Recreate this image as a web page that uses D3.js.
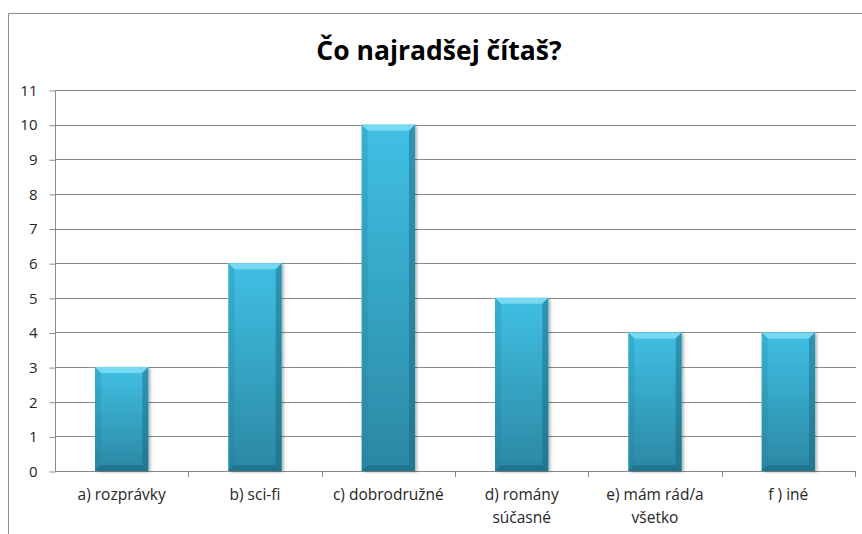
<!DOCTYPE html>
<html>
<head>
<meta charset="utf-8">
<script src="https://cdn.jsdelivr.net/npm/d3@7"></script>
<style>
  body { margin: 0; background: #fff; }
  text { font-family: "Open Sans", "Noto Sans", sans-serif; fill: #262626; }
</style>
</head>
<body>
<div id="chart"></div>
<script>
// chart data
const categories = ["a) rozprávky", "b) sci-fi", "c) dobrodružné", "d) romány súčasné", "e) mám rád/a všetko", "f ) iné"];
const labelLines = [["a) rozprávky"], ["b) sci-fi"], ["c) dobrodružné"], ["d) romány", "súčasné"], ["e) mám rád/a", "všetko"], ["f ) iné"]];
const counts = [3, 6, 10, 5, 4, 4];
const yTicks = [0, 1, 2, 3, 4, 5, 6, 7, 8, 9, 10, 11];
const title = "Čo najradšej čítaš?";

const W = 862, H = 534;
const plot = {left: 55, right: 855, top: 90, bottom: 471};

const svg = d3.select("#chart").append("svg")
    .attr("width", W)
    .attr("height", H);

// outer frame (only left and top visible)
svg.append("path")
    .attr("d", "M8.5,540 V13.5 H870")
    .attr("fill", "none")
    .attr("stroke", "#8c8c8c")
    .attr("stroke-width", 1);

svg.append("text")
    .attr("x", 439)
    .attr("y", 60)
    .attr("text-anchor", "middle")
    .style("font-size", "26.5px")
    .style("font-weight", "bold")
    .style("fill", "#000")
    .text(title);

const x = d3.scaleBand()
    .domain(categories)
    .range([plot.left, plot.right])
    .padding(0);

const y = d3.scaleLinear()
    .domain([0, 11])
    .range([plot.bottom, plot.top]);

// gridlines
svg.append("g")
    .selectAll("line")
    .data(yTicks.slice(1))
    .join("line")
    .attr("x1", plot.left)
    .attr("x2", plot.right + 1)
    .attr("y1", d => Math.round(y(d)) + 0.5)
    .attr("y2", d => Math.round(y(d)) + 0.5)
    .attr("stroke", "#8a8a8a");

// Y axis
const yAxis = svg.append("g")
    .attr("transform", "translate(" + (plot.left + 0.5) + ",0.5)")
    .call(d3.axisLeft(y).tickValues(yTicks).tickSize(6).tickPadding(12));
yAxis.attr("font-size", null).attr("font-family", null);
yAxis.select(".domain").attr("stroke", "#8a8a8a").attr("d", "M0," + plot.top + "V" + plot.bottom);
yAxis.selectAll(".tick line").attr("stroke", "#8a8a8a");
yAxis.selectAll("text")
    .style("font-size", "15px")
    .attr("fill", "#262626");

// X axis
const xAxis = svg.append("g")
    .attr("transform", "translate(0," + (plot.bottom + 0.5) + ")")
    .call(d3.axisBottom(x).tickSize(0).tickFormat(""));
xAxis.select(".domain").attr("stroke", "#8a8a8a").attr("d", "M" + plot.left + ",0H" + (plot.right + 1));

// category boundary ticks
svg.append("g")
    .selectAll("line")
    .data(categories)
    .join("line")
    .attr("x1", d => Math.round(x(d) + x.bandwidth()) + 0.5)
    .attr("x2", d => Math.round(x(d) + x.bandwidth()) + 0.5)
    .attr("y1", plot.bottom)
    .attr("y2", plot.bottom + 6)
    .attr("stroke", "#8a8a8a");

// category labels
const labels = svg.append("g")
    .selectAll("text")
    .data(categories)
    .join("text")
    .attr("text-anchor", "middle")
    .style("font-size", "15.5px");
labels.each(function(d, i) {
    const t = d3.select(this);
    labelLines[i].forEach((line, k) => {
        t.append("tspan")
            .attr("x", x(d) + x.bandwidth() / 2)
            .attr("y", 500 + k * 23)
            .text(line);
    });
});

// gradients for bevelled bars
const defs = svg.append("defs");
const g1 = defs.append("linearGradient").attr("id", "barFill")
    .attr("x1", 0).attr("y1", 0).attr("x2", 0).attr("y2", 1);
g1.append("stop").attr("offset", "0%").attr("stop-color", "#40c0e4");
g1.append("stop").attr("offset", "100%").attr("stop-color", "#2b88a3");

const filt = defs.append("filter").attr("id", "shadow")
    .attr("x", "-20%").attr("y", "-10%").attr("width", "150%").attr("height", "130%");
filt.append("feDropShadow").attr("dx", 2).attr("dy", 1).attr("stdDeviation", 1.5)
    .attr("flood-color", "#000").attr("flood-opacity", 0.3);

const barW = x.bandwidth() * 0.4;
const bev = 6;

const bars = svg.append("g")
    .selectAll("g")
    .data(categories)
    .join("g");

bars.each(function(d, i) {
    const g = d3.select(this);
    const x0 = x(d) + (x.bandwidth() - barW) / 2;
    const x1 = x0 + barW;
    const y0 = y(counts[i]);
    const y1 = y(0);
    g.append("rect")
        .attr("x", x0)
        .attr("y", y0)
        .attr("width", barW)
        .attr("height", y1 - y0)
        .attr("fill", "url(#barFill)")
        .attr("filter", "url(#shadow)");
    // top bevel
    g.append("path")
        .attr("d", `M${x0},${y0}H${x1}L${x1 - bev},${y0 + bev}H${x0 + bev}Z`)
        .attr("fill", "#8ae2f6").attr("opacity", 0.75);
    // left bevel
    g.append("path")
        .attr("d", `M${x0},${y0}L${x0 + bev},${y0 + bev}V${y1 - bev}L${x0},${y1}Z`)
        .attr("fill", "#1f7e99").attr("opacity", 0.25);
    // right bevel
    g.append("path")
        .attr("d", `M${x1},${y0}L${x1 - bev},${y0 + bev}V${y1 - bev}L${x1},${y1}Z`)
        .attr("fill", "#15637a").attr("opacity", 0.45);
    // bottom bevel
    g.append("path")
        .attr("d", `M${x0},${y1}L${x0 + bev},${y1 - bev}H${x1 - bev}L${x1},${y1}Z`)
        .attr("fill", "#12586d").attr("opacity", 0.4);
});
</script>
</body>
</html>
